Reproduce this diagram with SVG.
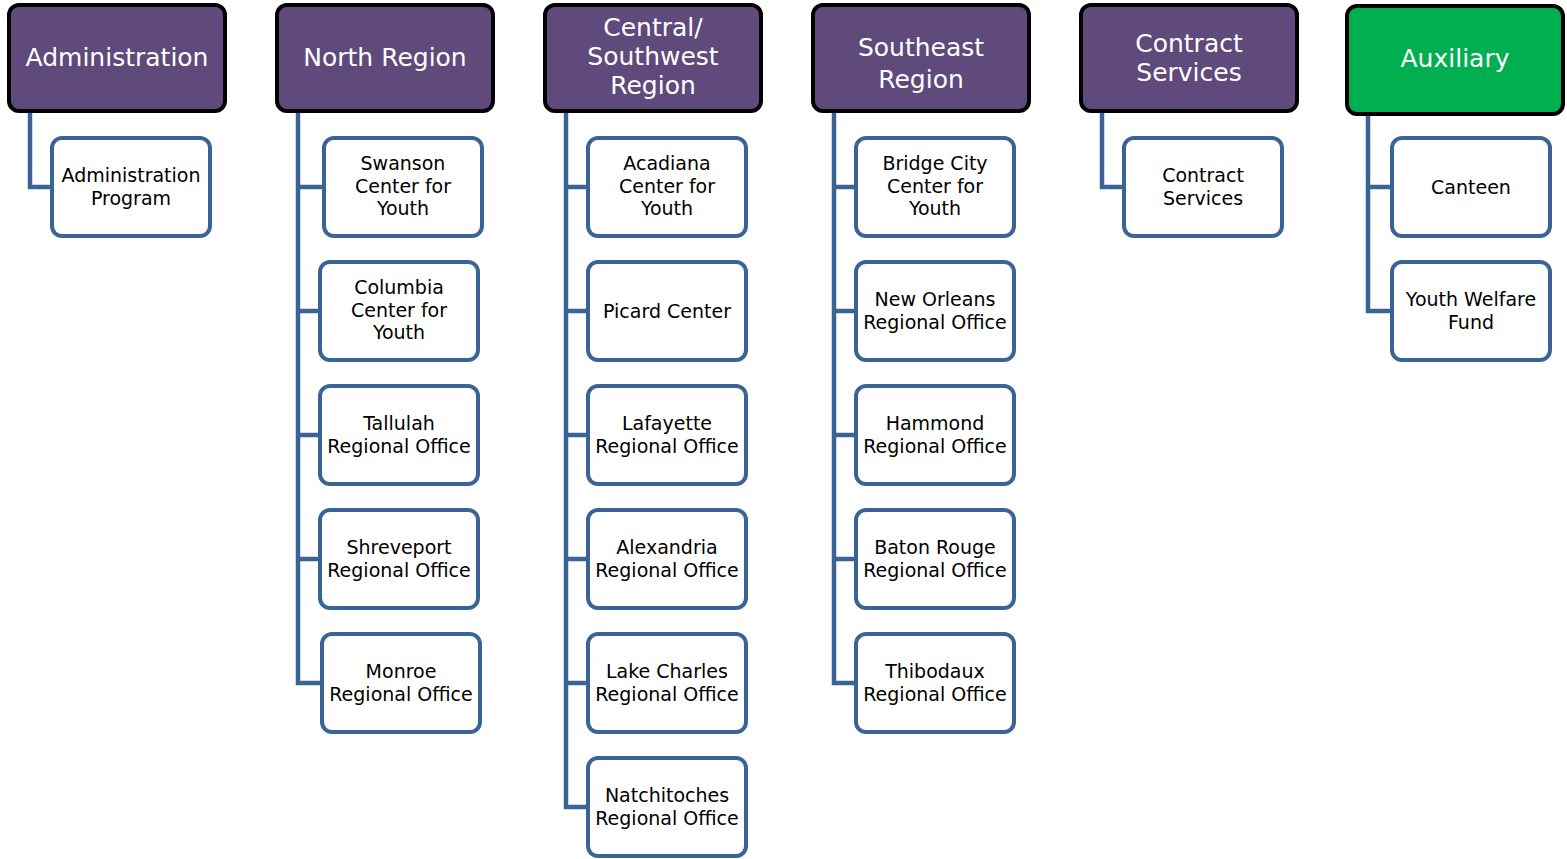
<svg xmlns="http://www.w3.org/2000/svg" width="1567" height="859" viewBox="0 0 1567 859">
<style>
.hdr{fill:#604a7b;stroke:#000;stroke-width:4}
.aux{fill:#00b050;stroke:#000;stroke-width:4}
.box{fill:#fff;stroke:#3b6496;stroke-width:4}
.ht{font-family:"DejaVu Sans",Verdana,sans-serif;font-size:25px;fill:#fff;text-anchor:middle}
.ct{font-family:"DejaVu Sans",Verdana,sans-serif;font-size:19px;fill:#000;text-anchor:middle}
.con{fill:none;stroke:#3b6496;stroke-width:4.5;stroke-linejoin:miter}
</style>
<rect width="1567" height="859" fill="#fff"/>
<g id="connectors">
<path class="con" d="M30 113V187H50"/>
<path class="con" d="M298 113V683H320M298 187H322M298 311H318M298 435H318M298 559H318"/>
<path class="con" d="M566 113V807H586M566 187H586M566 311H586M566 435H586M566 559H586M566 683H586"/>
<path class="con" d="M834 113V683H854M834 187H854M834 311H854M834 435H854M834 559H854"/>
<path class="con" d="M1102 113V187H1122"/>
<path class="con" d="M1368 116V311H1390M1368 187H1390"/>
</g>
<g id="h-admin"><rect class="hdr" x="9" y="5" width="216" height="106" rx="10"/><text class="ht" x="117" y="66">Administration</text></g>
<g id="h-north"><rect class="hdr" x="277" y="5" width="216" height="106" rx="10"/><text class="ht" x="385" y="66">North Region</text></g>
<g id="h-central"><rect class="hdr" x="545" y="5" width="216" height="106" rx="10"/><text class="ht" x="653" y="36">Central/</text><text class="ht" x="653" y="65">Southwest</text><text class="ht" x="653" y="94">Region</text></g>
<g id="h-southeast"><rect class="hdr" x="813" y="5" width="216" height="106" rx="10"/><text class="ht" x="921" y="56">Southeast</text><text class="ht" x="921" y="88">Region</text></g>
<g id="h-contract"><rect class="hdr" x="1081" y="5" width="216" height="106" rx="10"/><text class="ht" x="1189" y="52">Contract</text><text class="ht" x="1189" y="81">Services</text></g>
<g id="h-aux"><rect class="aux" x="1347" y="6" width="216" height="108" rx="10"/><text class="ht" x="1455" y="67">Auxiliary</text></g>

<g id="n-adminprog"><rect class="box" x="52" y="138" width="158" height="98" rx="10"/><text class="ct" x="131" y="182">Administration</text><text class="ct" x="131" y="204.5">Program</text></g>

<g id="n-swanson"><rect class="box" x="324" y="138" width="158" height="98" rx="10"/><text class="ct" x="403" y="170">Swanson</text><text class="ct" x="403" y="192.5">Center for</text><text class="ct" x="403" y="215">Youth</text></g>
<g id="n-columbia"><rect class="box" x="320" y="262" width="158" height="98" rx="10"/><text class="ct" x="399" y="294">Columbia</text><text class="ct" x="399" y="316.5">Center for</text><text class="ct" x="399" y="339">Youth</text></g>
<g id="n-tallulah"><rect class="box" x="320" y="386" width="158" height="98" rx="10"/><text class="ct" x="399" y="430">Tallulah</text><text class="ct" x="399" y="452.5">Regional Office</text></g>
<g id="n-shreveport"><rect class="box" x="320" y="510" width="158" height="98" rx="10"/><text class="ct" x="399" y="554">Shreveport</text><text class="ct" x="399" y="576.5">Regional Office</text></g>
<g id="n-monroe"><rect class="box" x="322" y="634" width="158" height="98" rx="10"/><text class="ct" x="401" y="678">Monroe</text><text class="ct" x="401" y="700.5">Regional Office</text></g>

<g id="n-acadiana"><rect class="box" x="588" y="138" width="158" height="98" rx="10"/><text class="ct" x="667" y="170">Acadiana</text><text class="ct" x="667" y="192.5">Center for</text><text class="ct" x="667" y="215">Youth</text></g>
<g id="n-picard"><rect class="box" x="588" y="262" width="158" height="98" rx="10"/><text class="ct" x="667" y="318">Picard Center</text></g>
<g id="n-lafayette"><rect class="box" x="588" y="386" width="158" height="98" rx="10"/><text class="ct" x="667" y="430">Lafayette</text><text class="ct" x="667" y="452.5">Regional Office</text></g>
<g id="n-alexandria"><rect class="box" x="588" y="510" width="158" height="98" rx="10"/><text class="ct" x="667" y="554">Alexandria</text><text class="ct" x="667" y="576.5">Regional Office</text></g>
<g id="n-lakecharles"><rect class="box" x="588" y="634" width="158" height="98" rx="10"/><text class="ct" x="667" y="678">Lake Charles</text><text class="ct" x="667" y="700.5">Regional Office</text></g>
<g id="n-natchitoches"><rect class="box" x="588" y="758" width="158" height="98" rx="10"/><text class="ct" x="667" y="802">Natchitoches</text><text class="ct" x="667" y="824.5">Regional Office</text></g>

<g id="n-bridgecity"><rect class="box" x="856" y="138" width="158" height="98" rx="10"/><text class="ct" x="935" y="170">Bridge City</text><text class="ct" x="935" y="192.5">Center for</text><text class="ct" x="935" y="215">Youth</text></g>
<g id="n-neworleans"><rect class="box" x="856" y="262" width="158" height="98" rx="10"/><text class="ct" x="935" y="306">New Orleans</text><text class="ct" x="935" y="328.5">Regional Office</text></g>
<g id="n-hammond"><rect class="box" x="856" y="386" width="158" height="98" rx="10"/><text class="ct" x="935" y="430">Hammond</text><text class="ct" x="935" y="452.5">Regional Office</text></g>
<g id="n-batonrouge"><rect class="box" x="856" y="510" width="158" height="98" rx="10"/><text class="ct" x="935" y="554">Baton Rouge</text><text class="ct" x="935" y="576.5">Regional Office</text></g>
<g id="n-thibodaux"><rect class="box" x="856" y="634" width="158" height="98" rx="10"/><text class="ct" x="935" y="678">Thibodaux</text><text class="ct" x="935" y="700.5">Regional Office</text></g>

<g id="n-contractservices"><rect class="box" x="1124" y="138" width="158" height="98" rx="10"/><text class="ct" x="1203" y="182">Contract</text><text class="ct" x="1203" y="204.5">Services</text></g>

<g id="n-canteen"><rect class="box" x="1392" y="138" width="158" height="98" rx="10"/><text class="ct" x="1471" y="194">Canteen</text></g>
<g id="n-ywf"><rect class="box" x="1392" y="262" width="158" height="98" rx="10"/><text class="ct" x="1471" y="306">Youth Welfare</text><text class="ct" x="1471" y="328.5">Fund</text></g>
</svg>
